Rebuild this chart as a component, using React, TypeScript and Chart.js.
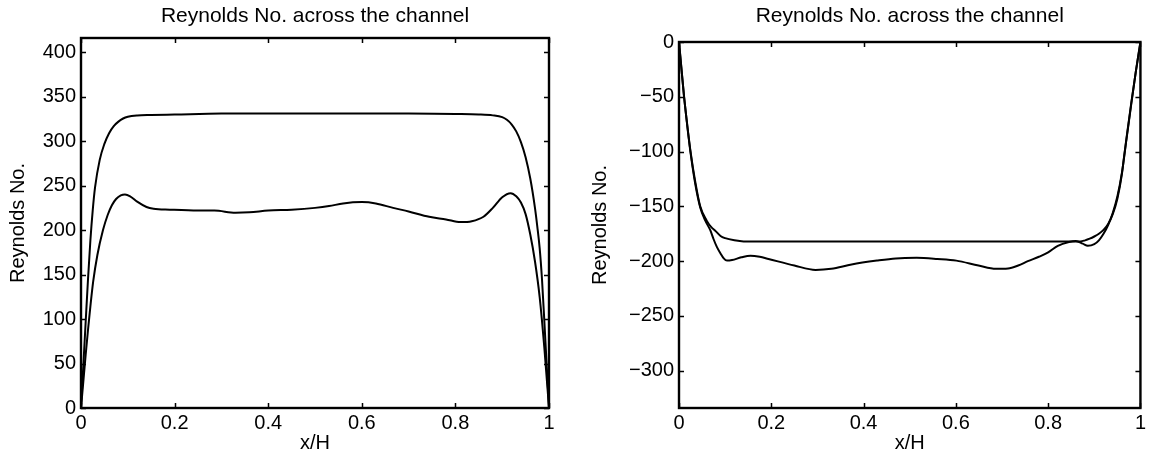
import React, { useEffect, useRef } from 'react';
import { Chart, registerables } from 'chart.js';

Chart.register(...registerables);

// ---------- text ----------
const TITLE = 'Reynolds No. across the channel';
const X_LABEL = 'x/H';
const Y_LABEL = 'Reynolds No.';

// ---------- ticks ----------
const X_TICKS = [0, 0.2, 0.4, 0.6, 0.8, 1];
const X_TICK_LABELS = ['0', '0.2', '0.4', '0.6', '0.8', '1'];
const LEFT_Y_TICKS = [0, 50, 100, 150, 200, 250, 300, 350, 400];
const RIGHT_Y_TICKS = [0, -50, -100, -150, -200, -250, -300];
const LEFT_Y_RANGE = [0, 416];
const RIGHT_Y_RANGE = [-334, 0];

// ---------- left panel data ----------
const LEFT_UPPER_X = [0, 0.005, 0.01, 0.015, 0.02, 0.025, 0.03, 0.04, 0.05, 0.06, 0.07, 0.08, 0.09, 0.1, 0.12, 0.15, 0.2, 0.3, 0.4, 0.5, 0.6, 0.7, 0.8, 0.85, 0.88, 0.9, 0.91, 0.92, 0.93, 0.94, 0.95, 0.96, 0.97, 0.975, 0.98, 0.985, 0.99, 0.995, 1];
const LEFT_UPPER_Y = [0, 48, 97, 145, 188, 222, 248, 279, 297, 309, 317, 322, 325.5, 327.5, 329, 329.5, 330, 331, 331, 331, 331, 331, 330.5, 330, 329, 327, 324, 319, 311, 299, 282, 258, 225, 204, 180, 145, 98, 49, 0];

const LEFT_LOWER_X = [0, 0.005, 0.01, 0.015, 0.02, 0.026, 0.035, 0.047, 0.057, 0.066, 0.075, 0.085, 0.094, 0.105, 0.12, 0.14, 0.155, 0.19, 0.25, 0.285, 0.33, 0.36, 0.4, 0.45, 0.5, 0.53, 0.56, 0.6, 0.63, 0.667, 0.7, 0.744, 0.78, 0.811, 0.835, 0.86, 0.88, 0.9, 0.918, 0.93, 0.94, 0.95, 0.96, 0.97, 0.98, 0.99, 1];
const LEFT_LOWER_Y = [0, 30, 60, 88, 114, 142, 172, 200, 217, 228, 235, 239, 240, 238, 232, 226, 224, 223, 222, 222, 219.5, 220, 222, 223, 225, 227, 230, 231.5, 230, 225, 221, 215, 212, 209, 210, 215, 225, 237, 241.5, 238, 231, 218, 195, 165, 125, 68, 0];

// ---------- right panel data ----------
const RIGHT_UPPER_X = [0, 0.005, 0.011, 0.018, 0.025, 0.035, 0.046, 0.06, 0.07, 0.078, 0.09, 0.1, 0.12, 0.14, 0.3, 0.5, 0.7, 0.85, 0.87, 0.88, 0.89, 0.9, 0.91, 0.92, 0.93, 0.94, 0.95, 0.96, 0.965, 0.97, 0.98, 0.99, 1];
const RIGHT_UPPER_Y = [0, -23, -50, -76, -100, -127, -150, -163, -169, -172, -177, -179, -181, -182, -182, -182, -182, -182, -182, -181, -179.5, -177.5, -175, -171.5, -166, -157, -143, -120, -103, -87, -56, -27, 0];

const RIGHT_LOWER_X = [0, 0.005, 0.011, 0.018, 0.025, 0.035, 0.046, 0.057, 0.068, 0.075, 0.082, 0.09, 0.097, 0.104, 0.115, 0.135, 0.155, 0.175, 0.194, 0.25, 0.296, 0.33, 0.374, 0.429, 0.47, 0.515, 0.56, 0.601, 0.649, 0.687, 0.713, 0.735, 0.756, 0.78, 0.8, 0.821, 0.845, 0.86, 0.875, 0.886, 0.9, 0.91, 0.92, 0.93, 0.94, 0.95, 0.96, 0.97, 0.98, 0.99, 1];
const RIGHT_LOWER_Y = [0, -23, -50, -77, -101, -129, -151, -163, -172, -180, -187, -193, -197.5, -199.5, -199, -196.5, -195, -196, -198, -204, -208, -207, -203, -199.5, -197.5, -197, -198, -199.5, -204, -207, -206.7, -204, -200, -196, -192, -186, -182.5, -181.5, -184, -186, -184.5, -181, -175, -167, -156, -141, -119, -88, -57, -27, 0];

const FONT = 'Liberation Sans, Arial, Helvetica, sans-serif';
const FS = 20;
const TITLE_FS = 21;
const TICK_LEN = 5;

const toPoints = (xs: number[], ys: number[]) => xs.map((x, i) => ({ x, y: ys[i] }));
const fmt = (v: number) => (v < 0 ? '\u2212' + String(-v) : String(v));

const boxPlugin = {
  id: 'matlabBox',
  afterLayout(chart: any) {
    // centre the title over the axes box, as MATLAB does
    const tb = chart.titleBlock;
    if (tb && chart.chartArea) {
      tb.left = chart.chartArea.left;
      tb.right = chart.chartArea.right;
    }
  },
  afterDatasetsDraw(chart: any) {
    const { ctx, chartArea: a, scales } = chart;
    const xs = scales.x;
    const ys = scales.y;
    ctx.save();
    ctx.strokeStyle = '#000';
    ctx.lineWidth = 1.5;
    ctx.beginPath();
    for (const t of xs.ticks) {
      const p = Math.round(xs.getPixelForValue(t.value)) + 0.5;
      ctx.moveTo(p, a.bottom);
      ctx.lineTo(p, a.bottom - TICK_LEN);
      ctx.moveTo(p, a.top);
      ctx.lineTo(p, a.top + TICK_LEN);
    }
    for (const t of ys.ticks) {
      const p = Math.round(ys.getPixelForValue(t.value)) + 0.5;
      ctx.moveTo(a.left, p);
      ctx.lineTo(a.left + TICK_LEN, p);
      ctx.moveTo(a.right, p);
      ctx.lineTo(a.right - TICK_LEN, p);
    }
    ctx.stroke();
    ctx.lineWidth = 2.4;
    ctx.strokeRect(a.left, a.top, a.right - a.left, a.bottom - a.top);
    ctx.restore();
  },
};

type PanelCfg = {
  left: number;
  width: number;
  yWidth: number;
  padRight: number;
  titlePadBottom: number;
  yTitlePad: number;
  yTicks: number[];
  yRange: number[];
  series: { x: number[]; y: number[] }[];
};

const PANELS: PanelCfg[] = [
  {
    left: 0,
    width: 574,
    yWidth: 81,
    padRight: 25,
    titlePadBottom: 8.8,
    yTitlePad: 6.5,
    yTicks: LEFT_Y_TICKS,
    yRange: LEFT_Y_RANGE,
    series: [
      { x: LEFT_UPPER_X, y: LEFT_UPPER_Y },
      { x: LEFT_LOWER_X, y: LEFT_LOWER_Y },
    ],
  },
  {
    left: 574,
    width: 575,
    yWidth: 105,
    padRight: 6,
    titlePadBottom: 12.8,
    yTitlePad: 14,
    yTicks: RIGHT_Y_TICKS,
    yRange: RIGHT_Y_RANGE,
    series: [
      { x: RIGHT_UPPER_X, y: RIGHT_UPPER_Y },
      { x: RIGHT_LOWER_X, y: RIGHT_LOWER_Y },
    ],
  },
];

function Panel({ cfg }: { cfg: PanelCfg }) {
  const ref = useRef<HTMLCanvasElement>(null);
  useEffect(() => {
    const chart = new Chart(ref.current as HTMLCanvasElement, {
      type: 'line',
      data: {
        datasets: cfg.series.map((s) => ({
          data: toPoints(s.x, s.y),
          borderColor: '#000',
          borderWidth: 2,
          pointRadius: 0,
          fill: false,
          cubicInterpolationMode: 'monotone' as const,
        })),
      },
      options: {
        animation: false,
        responsive: false,
        devicePixelRatio: 1,
        layout: { padding: { left: 0, right: cfg.padRight, top: 0, bottom: 0 } },
        plugins: {
          legend: { display: false },
          tooltip: { enabled: false },
          title: {
            display: true,
            text: TITLE,
            color: '#000',
            font: { family: FONT, size: TITLE_FS, weight: 'normal' },
            padding: { top: 4, bottom: cfg.titlePadBottom },
          },
        },
        scales: {
          x: {
            type: 'linear',
            min: 0,
            max: 1,
            grid: { display: false, drawTicks: false },
            border: { display: false },
            afterBuildTicks: (scale: any) => {
              scale.ticks = X_TICKS.map((v) => ({ value: v }));
            },
            afterFit: (scale: any) => {
              scale.height = 48;
            },
            ticks: {
              color: '#000',
              font: { family: FONT, size: FS },
              padding: 3,
              maxRotation: 0,
              autoSkip: false,
              callback: (_v: any, i: number) => X_TICK_LABELS[i],
            },
            title: {
              display: true,
              text: X_LABEL,
              color: '#000',
              font: { family: FONT, size: FS },
              padding: { top: 0, bottom: 1 },
            },
          },
          y: {
            type: 'linear',
            min: cfg.yRange[0],
            max: cfg.yRange[1],
            grid: { display: false, drawTicks: false },
            border: { display: false },
            afterBuildTicks: (scale: any) => {
              scale.ticks = cfg.yTicks.map((v) => ({ value: v }));
            },
            afterFit: (scale: any) => {
              scale.width = cfg.yWidth;
            },
            ticks: {
              color: '#000',
              font: { family: FONT, size: FS },
              padding: 5,
              autoSkip: false,
              callback: (v: any) => fmt(Number(v)),
            },
            title: {
              display: true,
              text: Y_LABEL,
              color: '#000',
              font: { family: FONT, size: FS },
              padding: { top: cfg.yTitlePad, bottom: 0 },
            },
          },
        },
      },
      plugins: [boxPlugin],
    } as any);
    return () => chart.destroy();
  }, [cfg]);
  return (
    <canvas
      ref={ref}
      width={cfg.width}
      height={456}
      style={{ position: 'absolute', left: cfg.left, top: 0, width: cfg.width, height: 456 }}
    />
  );
}

export default function App() {
  return (
    <div style={{ position: 'absolute', left: 0, top: 0, width: 1149, height: 456, background: '#fff' }}>
      {PANELS.map((p, i) => (
        <Panel key={i} cfg={p} />
      ))}
    </div>
  );
}
